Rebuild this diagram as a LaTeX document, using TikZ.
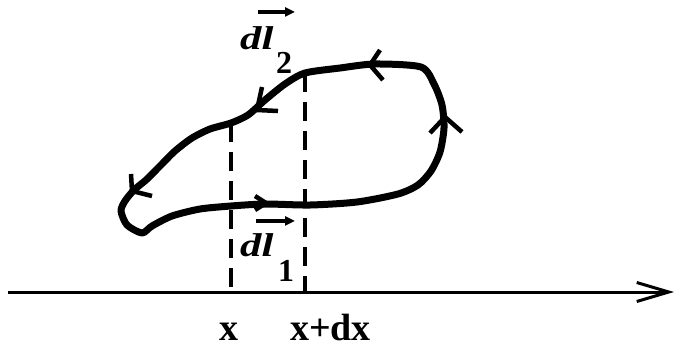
\documentclass[tikz,border=0pt]{standalone}
\usepackage{fontspec}
\setmainfont{Liberation Serif}
\usetikzlibrary{arrows.meta,calc}
\begin{document}
\begin{tikzpicture}[x=1pt,y=-1pt,
  loopline/.style={line width=7pt,line join=round,line cap=round},
  chev/.style={line width=4.5pt,line join=miter,line cap=butt},
  dashline/.style={line width=3.2pt,dash pattern=on 19pt off 10pt},
  axisline/.style={line width=3pt,-{Straight Barb[length=32pt,width=19pt,line width=3pt]}},
  vecar/.style={line width=3.2pt,-{Triangle[length=10pt,width=9pt]}},
  dlfont/.style={inner sep=0pt,font=\fontsize{33}{36}\selectfont\bfseries\itshape},
  subfont/.style={inner sep=0pt,font=\fontsize{32}{34}\selectfont\bfseries},
  xfont/.style={inner sep=0pt,font=\fontsize{38}{42}\selectfont\bfseries}]
\useasboundingbox (0,0) rectangle (677,349);
% loop
\draw[loopline] plot[smooth cycle,tension=0.45] coordinates {
 (305,73) (340,68) (375,64) (421,67) (434,84) (442,105) (444,128) (440,152)
 (431,171) (418,185) (398,194) (357,202) (310,205) (265,204) (231,206)
 (200,209) (172,216) (152,226) (142,233) (127,225) (121,211) (125,201)
 (134,190) (146,180) (160,166) (175,151) (192,138) (210,129) (231,123)
 (248,115) (265,100) (285,84)};
% direction chevrons on the loop
\draw[chev] (380,50) -- (370,65) -- (383,80);
\draw[chev] (430,133) -- (445,117) -- (462,132);
\draw[chev] (262,87) -- (257,110) -- (278,111);
\draw[chev] (131,174) -- (132,191) -- (152,196);
\draw[chev] (255,196) -- (266,203) -- (255,210);
% axis
\coordinate (axL) at (8,292);
\coordinate (axR) at (674,292);
\draw[axisline] (axL) -- (axR);
% dashed verticals
\coordinate (t1) at (231,123);
\coordinate (b1) at (231,292);
\coordinate (t2) at (305,73);
\coordinate (b2) at (305,292);
\draw[dashline] (t1) -- (b1);
\draw[dashline] (t2) -- (b2);
% labels dl2
\node[dlfont,anchor=base west] (d2) at (240,49) {\scalebox{1.3}[1]{dl}};
\node[subfont,anchor=base west] (s2) at (276,73) {2};
\draw[vecar] ($(d2.north west)+(18,-14)$) -- ++(37,0);
% labels dl1
\node[dlfont,anchor=base west] (d1) at (240,256) {\scalebox{1.3}[1]{dl}};
\node[subfont,anchor=base west] (s1) at (278,281) {1};
\draw[vecar] ($(d1.north west)+(16,-12)$) -- ++(39,0);
% axis labels
\node[xfont,anchor=base] (lx) at (229,340) {x};
\node[xfont,anchor=base west] (ldx) at (290,340) {x+dx};
\end{tikzpicture}
\end{document}
